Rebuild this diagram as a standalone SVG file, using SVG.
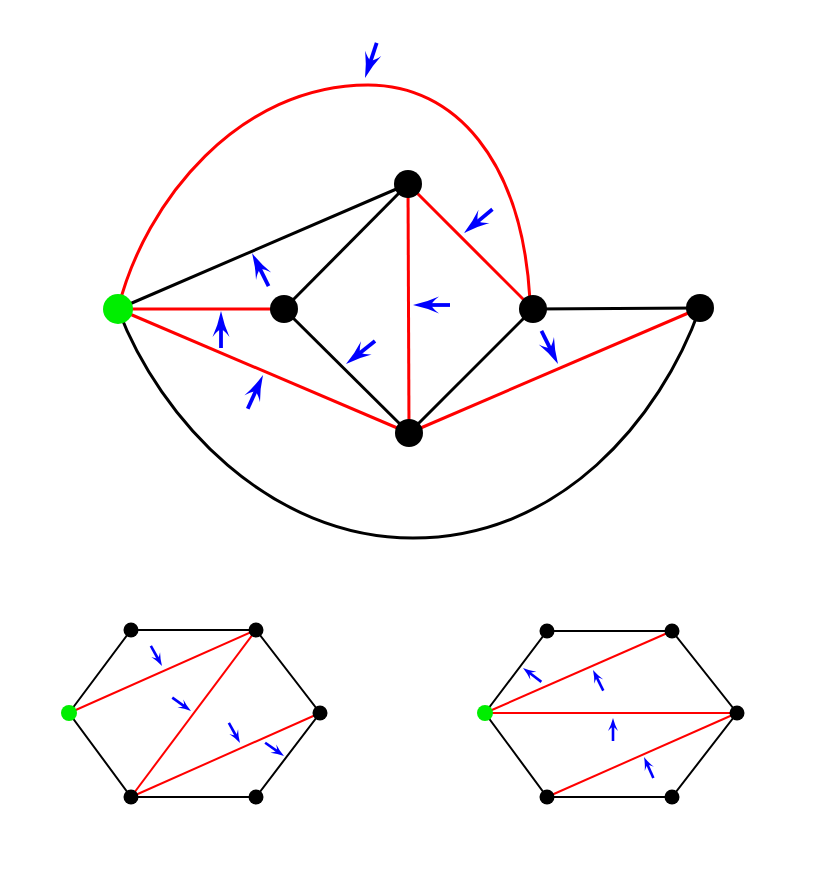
<svg xmlns="http://www.w3.org/2000/svg" xmlns:xlink="http://www.w3.org/1999/xlink" width="830" height="872" viewBox="0 0 830 872">
<style>
.bk{stroke:#000;fill:none;stroke-width:3}
.rd{stroke:#f00;fill:none;stroke-width:3}
.bks{stroke:#000;fill:none;stroke-width:2}
.rds{stroke:#f00;fill:none;stroke-width:2}
.node{fill:#000}
.start{fill:#00ee00}
</style>
<defs>
<g id="bigArrow"><line x1="-37" y1="0" x2="-17" y2="0" stroke="#0000ff" stroke-width="3.8"/><path d="M0,0 Q-14,-3 -26,-8.5 Q-20,-4 -18,0 Q-20,4 -26,8.5 Q-14,3 0,0 Z" fill="#0000ff"/></g>
<g id="smallArrow"><line x1="-23" y1="0" x2="-8" y2="0" stroke="#0000ff" stroke-width="2.6"/><path d="M0,0 Q-7,-1.8 -13,-5 Q-10,-2.5 -8.5,0 Q-10,2.5 -13,5 Q-7,1.8 0,0 Z" fill="#0000ff"/></g>
</defs>
<rect width="830" height="872" fill="#fff"/>
<g id="connectors">
<path class="rd" d="M118,309 C145,200 240,85 368,85 C455,85 522,160 530,300"/>
<path class="bk" d="M118,309 C160,420 270,538 413,538 C560,538 660,420 700,308"/>
<line class="bk" x1="118" y1="309" x2="408" y2="184"/>
<line class="rd" x1="118" y1="309" x2="284" y2="309"/>
<line class="rd" x1="118" y1="309" x2="409" y2="433"/>
<line class="bk" x1="284" y1="309" x2="408" y2="184"/>
<line class="bk" x1="284" y1="309" x2="409" y2="433"/>
<line class="rd" x1="408" y1="184" x2="409" y2="433"/>
<line class="rd" x1="408" y1="184" x2="533" y2="309"/>
<line class="bk" x1="409" y1="433" x2="533" y2="309"/>
<line class="rd" x1="409" y1="433" x2="700" y2="308"/>
<line class="bk" x1="533" y1="309" x2="700" y2="308"/>

<polygon class="bks" points="69,713 131,630 256,630 320,713 256,797 131,797"/>
<line class="rds" x1="69" y1="713" x2="256" y2="630"/>
<line class="rds" x1="256" y1="630" x2="131" y2="797"/>
<line class="rds" x1="131" y1="797" x2="320" y2="713"/>

<polygon class="bks" points="485,713 547,631 672,631 737,713 672,797 547,797"/>
<line class="rds" x1="485" y1="713" x2="672" y2="631"/>
<line class="rds" x1="485" y1="713" x2="737" y2="713"/>
<line class="rds" x1="547" y1="797" x2="737" y2="713"/>
</g>
<g id="arrows">
<use xlink:href="#bigArrow" transform="translate(365,78) rotate(108.4)"/>
<use xlink:href="#bigArrow" transform="translate(252,253) rotate(-116.6)"/>
<use xlink:href="#bigArrow" transform="translate(221,311) rotate(-90)"/>
<use xlink:href="#bigArrow" transform="translate(263,375) rotate(-65.6)"/>
<use xlink:href="#bigArrow" transform="translate(413,305) rotate(180)"/>
<use xlink:href="#bigArrow" transform="translate(346,364) rotate(141.6)"/>
<use xlink:href="#bigArrow" transform="translate(464,233) rotate(140.2)"/>
<use xlink:href="#bigArrow" transform="translate(558,364) rotate(63.4)"/>

<use xlink:href="#smallArrow" transform="translate(162,666) rotate(61)"/>
<use xlink:href="#smallArrow" transform="translate(191,711) rotate(35.5)"/>
<use xlink:href="#smallArrow" transform="translate(240,743) rotate(61)"/>
<use xlink:href="#smallArrow" transform="translate(284,756) rotate(35)"/>

<use xlink:href="#smallArrow" transform="translate(523,668) rotate(-143)"/>
<use xlink:href="#smallArrow" transform="translate(593,670) rotate(-116.6)"/>
<use xlink:href="#smallArrow" transform="translate(613,718) rotate(-90)"/>
<use xlink:href="#smallArrow" transform="translate(644,757) rotate(-114)"/>
</g>
<g id="nG"><circle class="start" cx="118" cy="309" r="15"/></g>
<g id="nA"><circle class="node" cx="284" cy="309" r="14"/></g>
<g id="nT"><circle class="node" cx="408" cy="184" r="14"/></g>
<g id="nB"><circle class="node" cx="409" cy="433" r="14"/></g>
<g id="nR"><circle class="node" cx="533" cy="309" r="14"/></g>
<g id="nF"><circle class="node" cx="700" cy="308" r="14"/></g>

<g id="l1"><circle class="start" cx="69" cy="713" r="8"/></g>
<g id="l2"><circle class="node" cx="131" cy="630" r="7.5"/></g>
<g id="l3"><circle class="node" cx="256" cy="630" r="7.5"/></g>
<g id="l4"><circle class="node" cx="320" cy="713" r="7.5"/></g>
<g id="l5"><circle class="node" cx="256" cy="797" r="7.5"/></g>
<g id="l6"><circle class="node" cx="131" cy="797" r="7.5"/></g>

<g id="r1"><circle class="start" cx="485" cy="713" r="8"/></g>
<g id="r2"><circle class="node" cx="547" cy="631" r="7.5"/></g>
<g id="r3"><circle class="node" cx="672" cy="631" r="7.5"/></g>
<g id="r4"><circle class="node" cx="737" cy="713" r="7.5"/></g>
<g id="r5"><circle class="node" cx="672" cy="797" r="7.5"/></g>
<g id="r6"><circle class="node" cx="547" cy="797" r="7.5"/></g>
</svg>
